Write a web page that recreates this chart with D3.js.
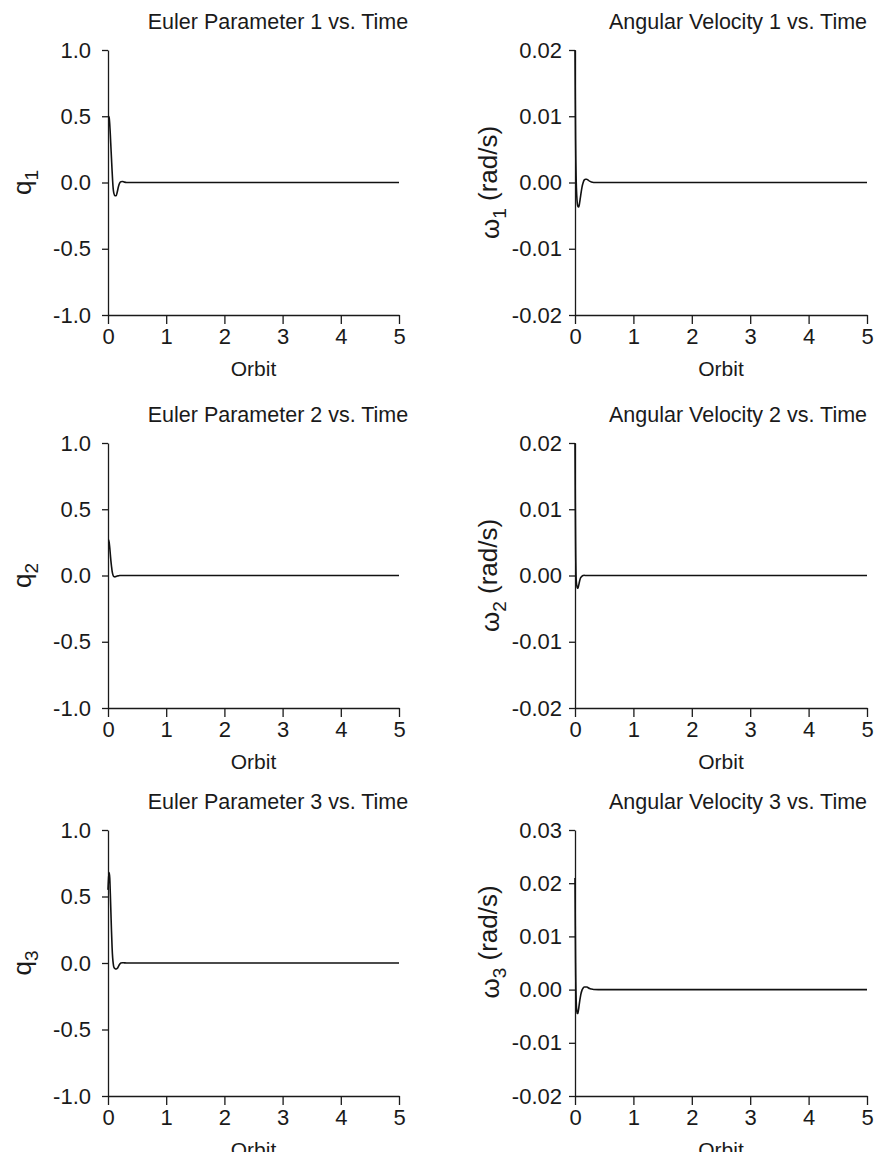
<!DOCTYPE html>
<html>
<head>
<meta charset="utf-8">
<script src="https://cdn.jsdelivr.net/npm/d3@7"></script>
<style>
  body { margin: 0; background: #fff; }
  text { font-family: "Liberation Sans", Arial, Helvetica, sans-serif; fill: #1a1a1a; }
</style>
</head>
<body>
<svg id="fig" width="874" height="1152"></svg>
<script>
// Sample times (orbits) shared by all six histories
const orbit = [0, 0.005, 0.01, 0.02, 0.03, 0.04, 0.05, 0.06, 0.07, 0.08, 0.09, 0.10,
               0.12, 0.14, 0.16, 0.18, 0.20, 0.22, 0.25, 0.28, 0.32, 0.40, 1, 2, 3, 4, 5];

// Euler parameters
const q1 = [0.50, 0.50, 0.50, 0.49, 0.44, 0.36, 0.27, 0.18, 0.09, 0.01, -0.05, -0.08,
            -0.10, -0.10, -0.07, -0.03, -0.005, 0.006, 0.007, 0.003, 0.0, 0, 0, 0, 0, 0, 0];
const q2 = [0.27, 0.27, 0.27, 0.25, 0.21, 0.16, 0.11, 0.07, 0.035, 0.012, -0.002, -0.008,
            -0.010, -0.007, -0.004, -0.002, 0.0, 0, 0, 0, 0, 0, 0, 0, 0, 0, 0];
const q3 = [0.55, 0.60, 0.64, 0.68, 0.64, 0.52, 0.38, 0.24, 0.12, 0.04, -0.005, -0.03,
            -0.042, -0.045, -0.04, -0.025, -0.01, 0.0, 0.002, 0.001, 0.0, 0, 0, 0, 0, 0, 0];

// Body angular velocities (rad/s)
const w1 = [0.0200, 0.0125, 0.0065, 0.0005, -0.0020, -0.0032, -0.0036, -0.0037, -0.0035, -0.0030,
            -0.0024, -0.0018, -0.0007, 0.0000, 0.0004, 0.0005, 0.0005, 0.0004, 0.0002, 0.00007,
            0.00001, 0, 0, 0, 0, 0, 0];
const w2 = [0.0200, 0.0110, 0.0050, -0.0005, -0.0015, -0.0019, -0.0019, -0.0016, -0.0012, -0.0008,
            -0.0005, -0.0003, -0.0001, 0.0000, 0.00003, 0, 0, 0, 0, 0, 0, 0, 0, 0, 0, 0, 0];
const w3 = [0.0210, 0.0120, 0.0050, -0.0020, -0.0040, -0.0045, -0.0044, -0.0038, -0.0030, -0.0022,
            -0.0015, -0.0009, -0.0001, 0.0003, 0.0005, 0.0005, 0.0005, 0.0004, 0.0002, 0.0001,
            0.00002, 0, 0, 0, 0, 0, 0];

// Tick values
const orbitTicks = [0, 1, 2, 3, 4, 5];
const qTicks = [-1.0, -0.5, 0.0, 0.5, 1.0];
const wTicks = [-0.02, -0.01, 0.00, 0.01, 0.02];
const w3Ticks = [-0.02, -0.01, 0.00, 0.01, 0.02, 0.03];

// Titles and axis labels
const titles = ["Euler Parameter 1 vs. Time", "Angular Velocity 1 vs. Time",
                "Euler Parameter 2 vs. Time", "Angular Velocity 2 vs. Time",
                "Euler Parameter 3 vs. Time", "Angular Velocity 3 vs. Time"];
const xLabel = "Orbit";
const ySymbols = ["q", "\u03c9", "q", "\u03c9", "q", "\u03c9"];
const ySubs = ["1", "1", "2", "2", "3", "3"];
const yUnits = ["", " (rad/s)", "", " (rad/s)", "", " (rad/s)"];

const series = [q1, w1, q2, w2, q3, w3];
const tickSets = [qTicks, wTicks, qTicks, wTicks, qTicks, w3Ticks];
const decimals = [1, 2, 1, 2, 1, 2];

// Layout of the 3x2 grid
const colX = [[108, 399], [575, 867]];
const rowY = [[50, 315], [443, 708], [830, 1096]];
const titleX = [278, 738];
const yLabelX = [22, 490];

const svg = d3.select("#fig");

series.forEach((vals, i) => {
  const col = i % 2, row = Math.floor(i / 2);
  const [x0, x1] = colX[col];
  const [y0, y1] = rowY[row];
  const ticks = tickSets[i];

  const x = d3.scaleLinear().domain([0, 5]).range([x0, x1]);
  const y = d3.scaleLinear().domain([d3.min(ticks), d3.max(ticks)]).range([y1, y0]);

  const g = svg.append("g");

  // x axis
  const xa = g.append("g")
    .attr("transform", `translate(0,${y1})`)
    .call(d3.axisBottom(x).tickValues(orbitTicks).tickFormat(d3.format("d"))
      .tickSize(9).tickSizeOuter(0).tickPadding(4));
  // y axis
  const ya = g.append("g")
    .attr("transform", `translate(${x0},0)`)
    .call(d3.axisLeft(y).tickValues(ticks).tickFormat(d => d.toFixed(decimals[i]))
      .tickSize(6).tickSizeOuter(0).tickPadding(col === 0 ? 11 : 7));

  [xa, ya].forEach(a => {
    a.selectAll("path, line").attr("stroke", "#1a1a1a").attr("stroke-width", 1.3);
    a.selectAll("text").attr("font-size", 22).attr("fill", "#1a1a1a");
  });

  // data line
  const line = d3.line()
    .x((d, k) => x(orbit[k]))
    .y(d => y(d))
    .curve(d3.curveMonotoneX);
  g.append("path")
    .datum(vals)
    .attr("fill", "none")
    .attr("stroke", "#111")
    .attr("stroke-width", 1.6)
    .attr("stroke-linejoin", "round")
    .attr("d", line);

  // title
  g.append("text")
    .attr("x", titleX[col])
    .attr("y", y0 - 21)
    .attr("text-anchor", "middle")
    .attr("font-size", 21.5)
    .text(titles[i]);

  // x label
  g.append("text")
    .attr("x", (x0 + x1) / 2)
    .attr("y", y1 + 61)
    .attr("text-anchor", "middle")
    .attr("font-size", 21)
    .text(xLabel);

  // y label with subscript
  const yMid = col === 0 ? (y0 + y1) / 2 : (row === 2 ? 942 : (y0 + y1) / 2);
  const yl = g.append("text")
    .attr("transform", `translate(${yLabelX[col]},${yMid}) rotate(-90)`)
    .attr("text-anchor", "middle")
    .attr("dy", "0.35em")
    .attr("font-size", 26);
  yl.append("tspan").text(ySymbols[i]);
  yl.append("tspan").attr("font-size", 19).attr("dy", "0.35em").text(ySubs[i]);
  if (yUnits[i]) yl.append("tspan").attr("dy", "-0.35em").text(yUnits[i]);
});
</script>
</body>
</html>
